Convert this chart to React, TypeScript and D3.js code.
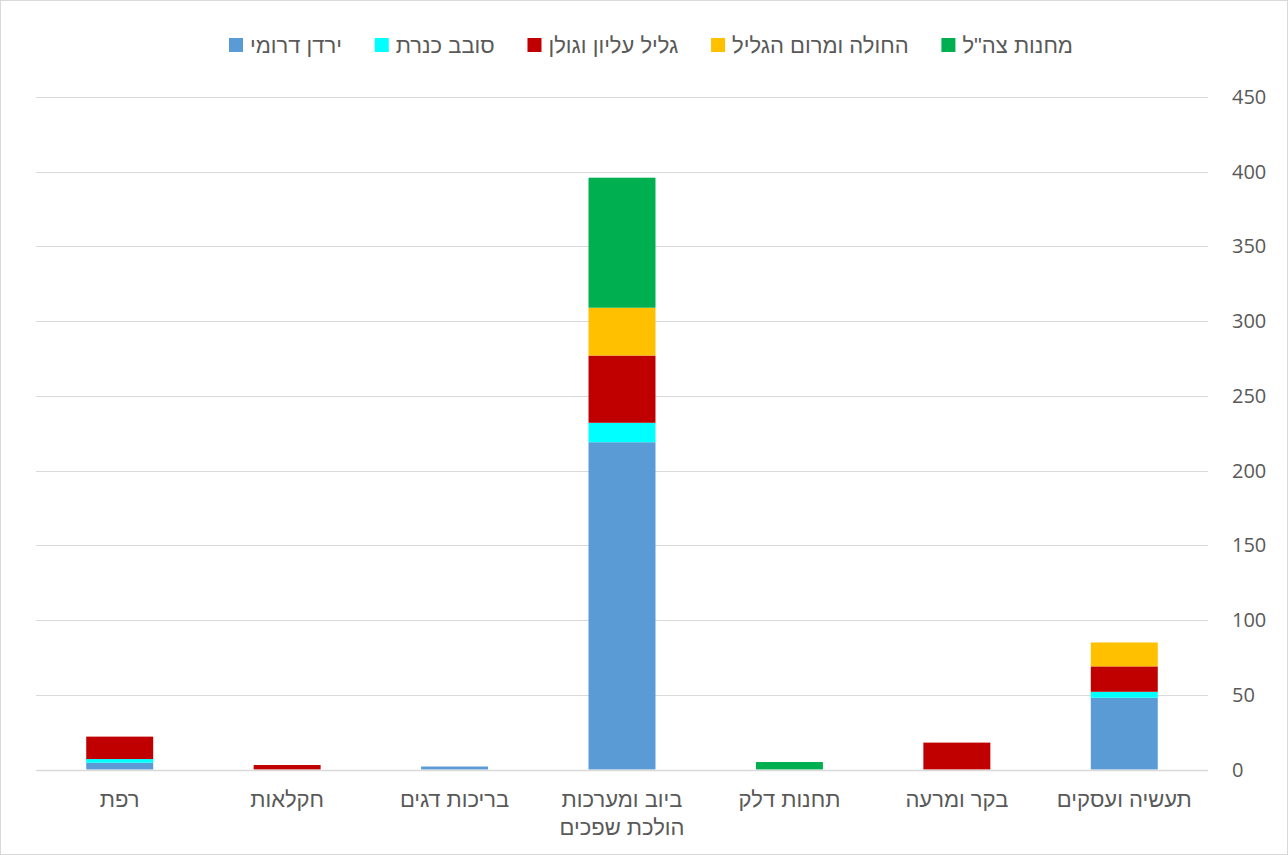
import React, { useEffect, useRef } from "react";
import * as d3 from "d3";

// Categories in display order, left to right (RTL chart, axis on the right)
const categories: string[][] = [
  ["רפת"],
  ["חקלאות"],
  ["בריכות דגים"],
  ["ביוב ומערכות", "הולכת שפכים"],
  ["תחנות דלק"],
  ["בקר ומרעה"],
  ["תעשיה ועסקים"],
];

const seriesNames = ["ירדן דרומי", "סובב כנרת", "גליל עליון וגולן", "החולה ומרום הגליל", "מחנות צה\"ל"];
const seriesColors = ["#5B9BD5", "#00FFFF", "#C00000", "#FFC000", "#00B050"];

const southJordan = [4.5, 0, 2, 219, 0, 0, 48];
const aroundKinneret = [2.5, 0, 0, 13, 0, 0, 4];
const upperGalilee = [15, 3, 0, 45, 0, 18, 17];
const hula = [0, 0, 0, 32, 0, 0, 16];
const idfCamps = [0, 0, 0, 87, 5, 0, 0];

const yTicks = [0, 50, 100, 150, 200, 250, 300, 350, 400, 450];

const W = 1288;
const H = 855;

export default function App() {
  const ref = useRef<SVGSVGElement | null>(null);

  useEffect(() => {
    const svg = d3.select(ref.current);
    svg.selectAll("*").remove();

    const heb = "'Liberation Sans', Arial, sans-serif";
    const num = "'Open Sans', 'Liberation Sans', sans-serif";
    const left = 36, right = 1208, top = 97, bottom = 769.5;

    svg.append("rect").attr("x", 0.5).attr("y", 0.5).attr("width", W - 1).attr("height", H - 1)
      .attr("fill", "#fff").attr("stroke", "#d9d9d9");

    const x = d3.scaleBand<number>().domain(d3.range(categories.length)).range([left, right]).paddingInner(0.6).paddingOuter(0.3);
    const y = d3.scaleLinear().domain([0, 450]).range([bottom, top]);

    // gridlines
    svg.append("g").selectAll("line").data(yTicks.filter((d) => d > 0)).join("line")
      .attr("x1", left).attr("x2", right)
      .attr("y1", (d) => Math.round(y(d)) + 0.5).attr("y2", (d) => Math.round(y(d)) + 0.5)
      .attr("stroke", "#d9d9d9").attr("stroke-width", 1);

    // tick labels
    svg.append("g").selectAll("text").data(yTicks).join("text")
      .attr("x", 1232).attr("y", (d) => y(d)).attr("dy", "0.35em")
      .attr("text-anchor", "start").attr("font-family", num).attr("font-size", 20).attr("fill", "#595959")
      .text((d) => String(d));

    const data = categories.map((_, i) => ({
      i,
      v: [southJordan[i], aroundKinneret[i], upperGalilee[i], hula[i], idfCamps[i]],
    }));
    const keys = [0, 1, 2, 3, 4];
    const stack = d3.stack<any, number>().keys(keys).value((d, k) => d.v[k]);
    const stacked = stack(data);

    stacked.forEach((layer, si) => {
      svg.append("g").selectAll("rect").data(layer.filter((s) => s[1] - s[0] > 0)).join("rect")
        .attr("x", (d: any) => x(d.data.i)!)
        .attr("width", x.bandwidth())
        .attr("y", (d) => y(d[1]))
        .attr("height", (d) => y(d[0]) - y(d[1]))
        .attr("fill", seriesColors[si]);
    });

    // axis line
    svg.append("line").attr("x1", left).attr("x2", right).attr("y1", Math.round(bottom) + 0.5).attr("y2", Math.round(bottom) + 0.5)
      .attr("stroke", "#d9d9d9").attr("stroke-width", 1.5);

    // category labels
    const cg = svg.append("g");
    categories.forEach((lines, i) => {
      lines.forEach((ln, li) => {
        cg.append("text").attr("x", x(i)! + x.bandwidth() / 2).attr("y", 807 + li * 28)
          .attr("text-anchor", "middle").attr("font-family", heb).attr("font-size", 22).attr("fill", "#595959")
          .attr("direction", "rtl")
          .text(ln);
      });
    });

    // legend
    const lg = svg.append("g");
    const sw = 14, gap = 7;
    const items = seriesNames.map((name, i) => {
      const g = lg.append("g");
      g.append("rect").attr("width", sw).attr("height", sw).attr("y", -sw / 2).attr("fill", seriesColors[i]);
      const t = g.append("text").attr("x", sw + gap).attr("dy", "0.35em").attr("font-family", heb)
        .attr("font-size", 22).attr("fill", "#595959").attr("text-anchor", "start").text(name);
      const w = (t.node() as SVGTextElement).getComputedTextLength();
      return { g, w: sw + gap + w };
    });
    const legLeft = 229, legRight = 1073;
    const sumW = d3.sum(items, (d) => d.w);
    const itemGap = (legRight - legLeft - sumW) / (items.length - 1);
    let cx = legLeft;
    items.forEach((it) => {
      it.g.attr("transform", `translate(${cx},45)`);
      cx += it.w + itemGap;
    });
  }, []);

  return (
    <svg ref={ref} width={W} height={H} style={{ position: "absolute", left: 0, top: 0, background: "#fff" }} />
  );
}
